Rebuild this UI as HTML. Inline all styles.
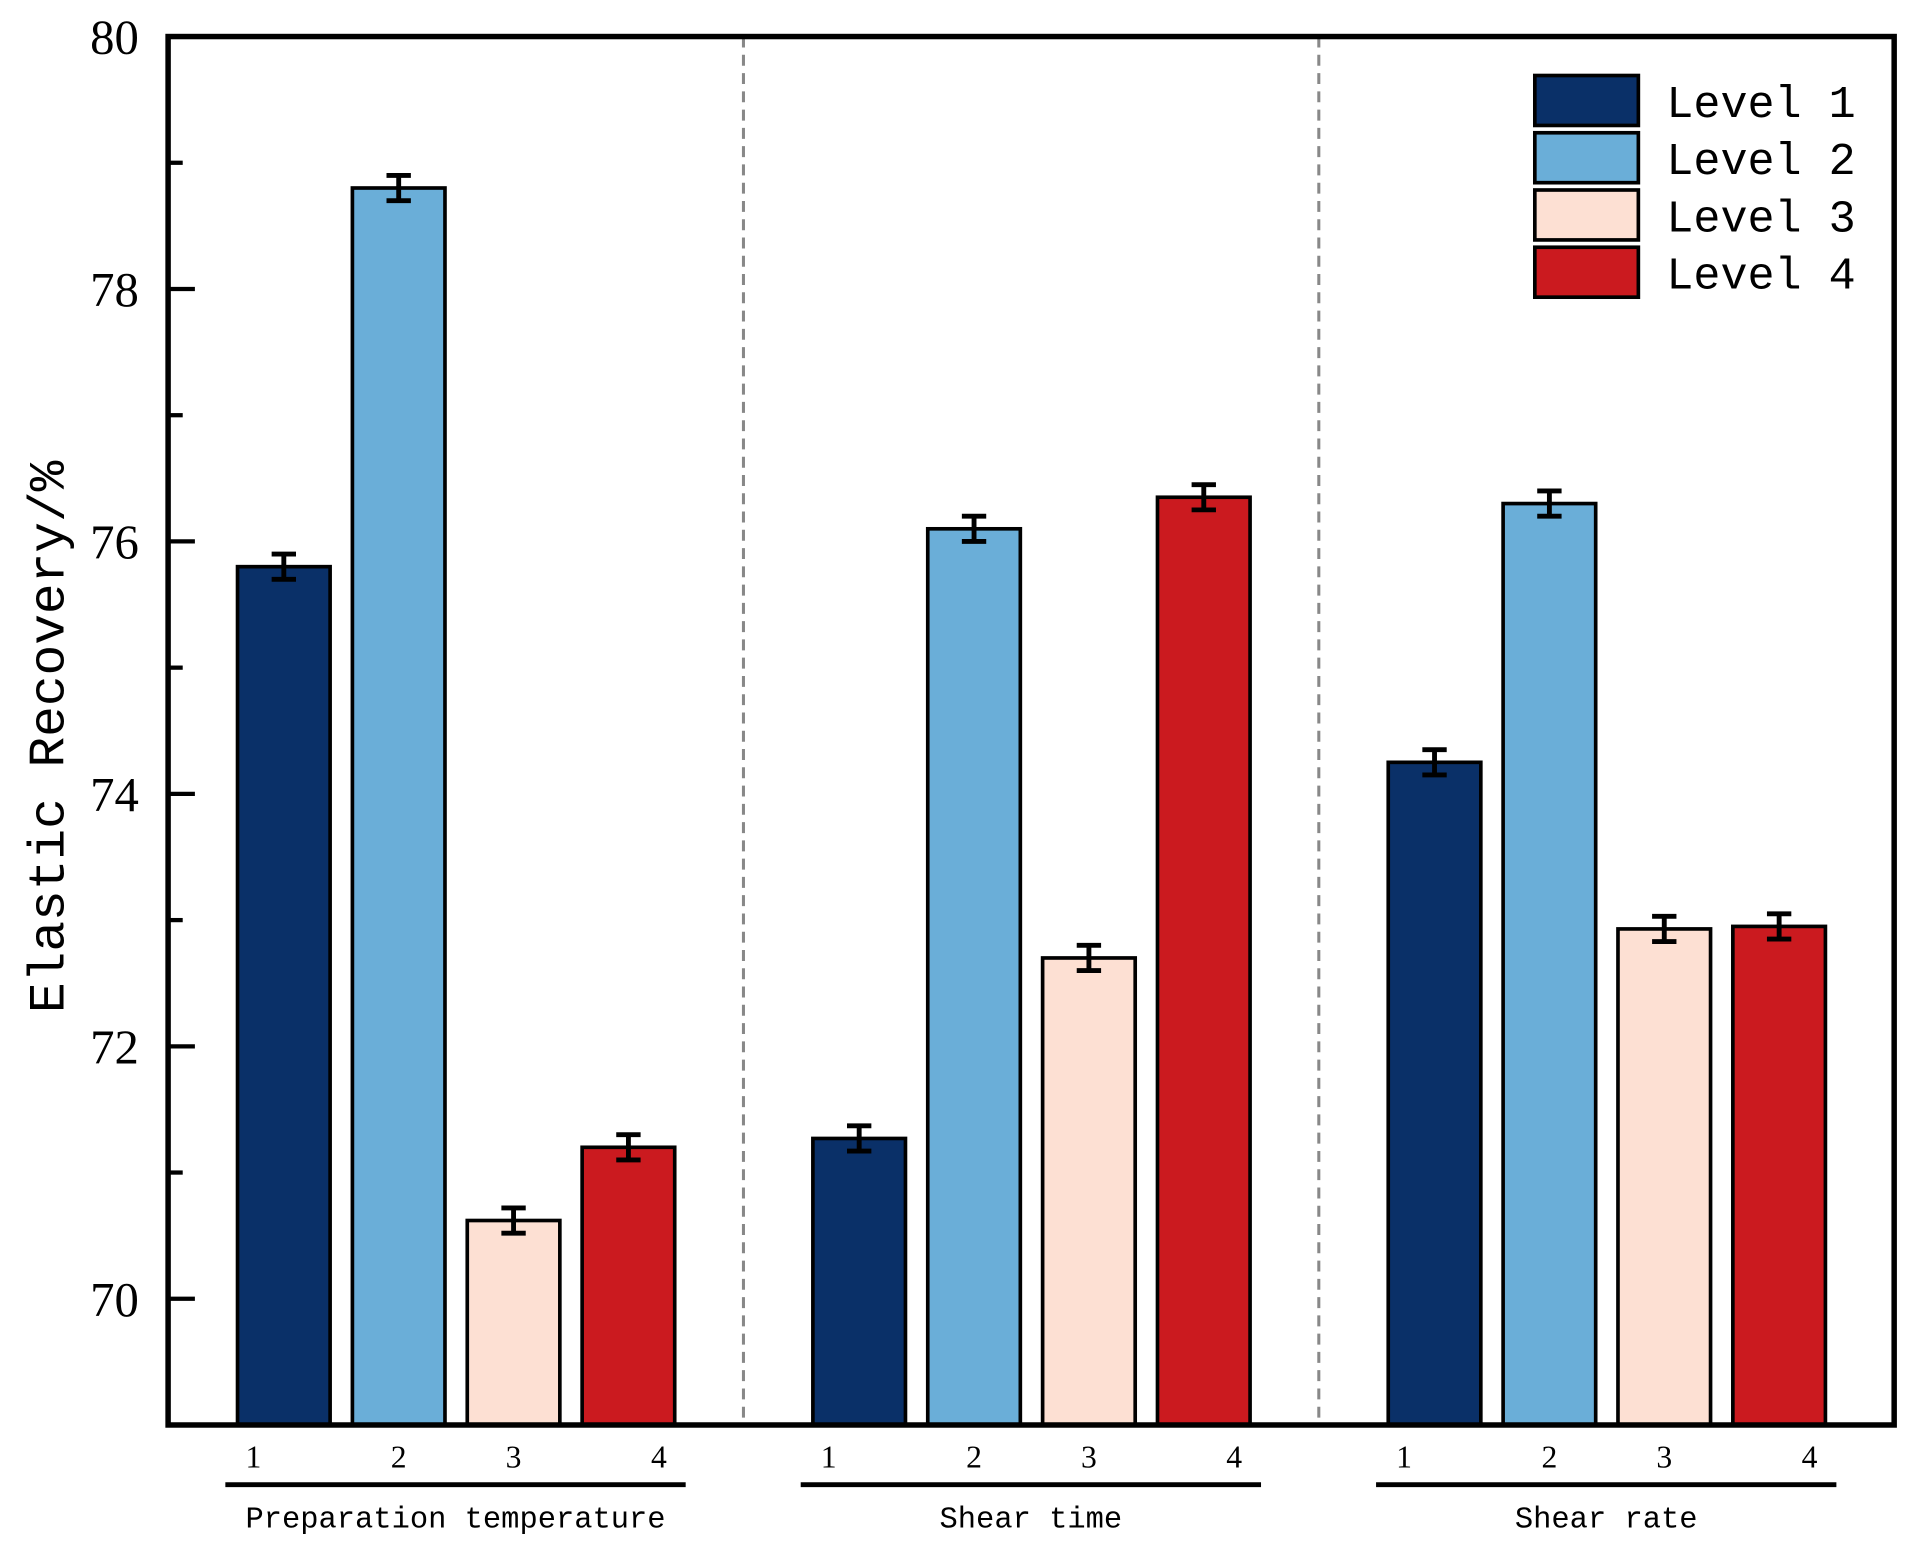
<!DOCTYPE html>
<html><head><meta charset="utf-8"><style>html,body{margin:0;padding:0;background:#fff}svg{display:block}</style></head>
<body>
<svg id="chart" width="1910" height="1548" viewBox="0 0 1568 1271" preserveAspectRatio="none" xmlns="http://www.w3.org/2000/svg">
<g id="bars"></g>
<g id="axes"></g>
<g id="legend"></g>
</svg>
<script>
const groups = ["Preparation temperature", "Shear time", "Shear rate"];
const levels = ["Level 1", "Level 2", "Level 3", "Level 4"];
const values = [[75.8, 78.8, 70.62, 71.2], [71.27, 76.1, 72.7, 76.35], [74.25, 76.3, 72.93, 72.95]];
const errors = [[0.1, 0.1, 0.1, 0.1], [0.1, 0.1, 0.1, 0.1], [0.1, 0.1, 0.1, 0.1]];
const yTicks = [70, 72, 74, 76, 78, 80];
const xTickLabels = ["1", "2", "3", "4"];
const colors = ["#0a3068", "#6aaed8", "#fde0d3", "#cb1a1f"];

const NS = "http://www.w3.org/2000/svg";
const L = 138, R = 1555, T = 30, B = 1170, yMin = 69, yMax = 80;
const y = v => B - (v - yMin) / (yMax - yMin) * (B - T);
const groupW = (R - L) / 3;
const barX = (g, i) => L + 57 + g * groupW + i * 94.3;
const barW = 76;
function el(tag, attrs, parent, text) {
  const e = document.createElementNS(NS, tag);
  for (const k in attrs) e.setAttribute(k, attrs[k]);
  if (text !== undefined) e.textContent = text;
  parent.appendChild(e);
  return e;
}
const bars = document.getElementById('bars');
const axes = document.getElementById('axes');
const legend = document.getElementById('legend');

for (let g = 1; g < 3; g++) {
  const x = L + g * groupW;
  const d = el('line', {x1: x, x2: x, y1: T, y2: B, stroke: '#888', 'stroke-width': 2.5, 'stroke-dasharray': '9,6'}, axes);
  
  
}
values.forEach((row, g) => {
  row.forEach((v, i) => {
    const x = barX(g, i);
    const r = el('rect', {x: x, y: y(v), width: barW, height: B - y(v), fill: colors[i], stroke: '#000', 'stroke-width': 3}, bars);
    
    
    const cx = x + barW / 2, e = errors[g][i];
    const eb = el('path', {d: `M${cx},${y(v + e)}V${y(v - e)}M${cx - 10},${y(v + e)}H${cx + 10}M${cx - 10},${y(v - e)}H${cx + 10}`, stroke: '#000', 'stroke-width': 4, fill: 'none'}, bars);
    
    
    const offs = [-25, 0, 0, 25];
    const t = el('text', {x: cx + offs[i], y: 1205, 'text-anchor': 'middle', 'font-family': 'Liberation Serif, serif', 'font-size': 26}, axes, xTickLabels[i]);
    
    
  });
  const gx0 = barX(g, 0) - 10, gx1 = barX(g, 3) + barW + 9;
  const gl = el('line', {x1: gx0, x2: gx1, y1: 1219, y2: 1219, stroke: '#000', 'stroke-width': 4}, axes);
  
  
  const gt = el('text', {x: (gx0 + gx1) / 2, y: 1254, 'text-anchor': 'middle', 'font-family': 'Liberation Mono, monospace', 'font-size': 25}, axes, groups[g]);
  
  
});
const fr = el('rect', {x: L, y: T, width: R - L, height: B - T, fill: 'none', stroke: '#000', 'stroke-width': 4.5}, axes);


for (let v = yMin + 1; v <= yMax; v++) {
  const major = yTicks.includes(v);
  const tk = el('line', {x1: L, x2: L + (major ? 22 : 12), y1: y(v), y2: y(v), stroke: '#000', 'stroke-width': 3.5}, axes);
  
  
}
yTicks.forEach(v => {
  const t = el('text', {x: 114, y: y(v) + 14, 'text-anchor': 'end', 'font-family': 'Liberation Serif, serif', 'font-size': 40}, axes, String(v));
  
  
});
const yt = el('text', {x: 52, y: 605, 'text-anchor': 'middle', transform: 'rotate(-90 52 605)', 'font-family': 'Liberation Mono, monospace', 'font-size': 42}, axes, 'Elastic Recovery/%');


levels.forEach((lv, i) => {
  const ry = 62 + i * 47;
  const s = el('rect', {x: 1260, y: ry, width: 85, height: 41, fill: colors[i], stroke: '#000', 'stroke-width': 3}, legend);
  
  
  const t = el('text', {x: 1368, y: ry + 34, 'font-family': 'Liberation Mono, monospace', 'font-size': 37}, legend, lv);
  
  
});
</script>
</body></html>
